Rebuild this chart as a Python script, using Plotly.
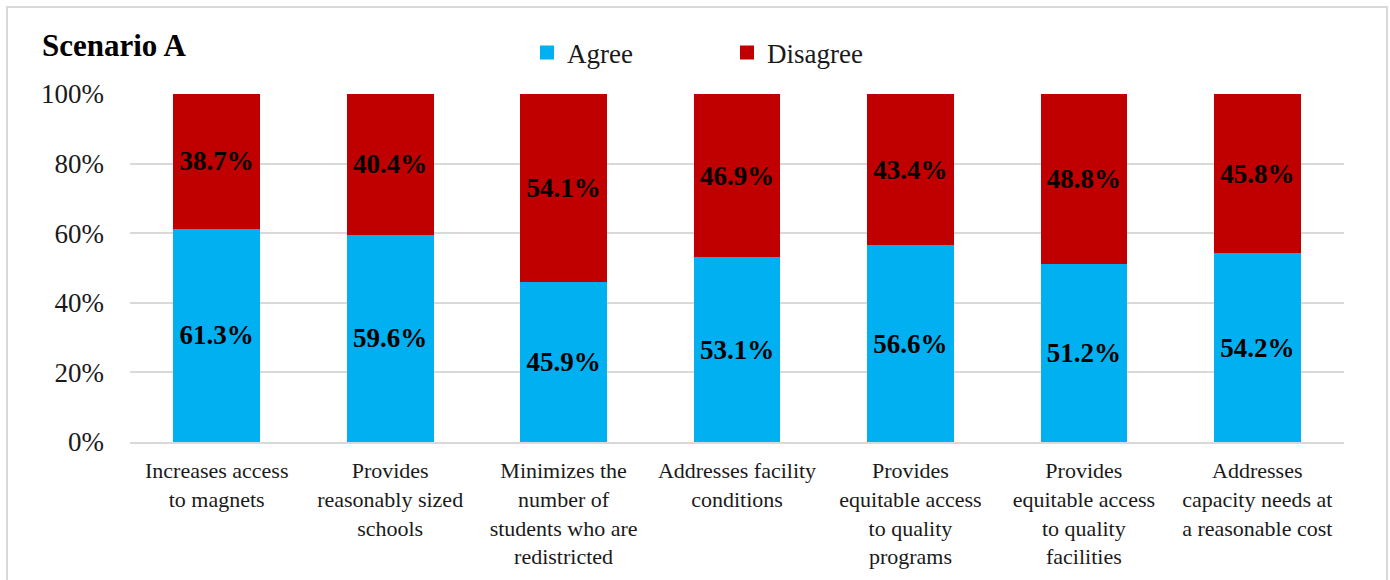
import plotly.graph_objects as go

categories = [
    "Increases access<br>to magnets",
    "Provides<br>reasonably sized<br>schools",
    "Minimizes the<br>number of<br>students who are<br>redistricted",
    "Addresses facility<br>conditions",
    "Provides<br>equitable access<br>to quality<br>programs",
    "Provides<br>equitable access<br>to quality<br>facilities",
    "Addresses<br>capacity needs at<br>a reasonable cost",
]
agree = [61.3, 59.6, 45.9, 53.1, 56.6, 51.2, 54.2]
disagree = [38.7, 40.4, 54.1, 46.9, 43.4, 48.8, 45.8]
y_ticks = [0, 20, 40, 60, 80, 100]

SERIF = "Liberation Serif"
W, H = 1390, 580
L, R, T, B = 130, 46, 94, 138
pw, ph = W - L - R, H - T - B


def px_x(x):
    return (x - L) / pw


def px_y(y):
    return (H - B - y) / ph


series = [("Agree", agree, "#00B0F0"), ("Disagree", disagree, "#C00000")]

fig = go.Figure()
for name, vals, color in series:
    fig.add_trace(go.Bar(
        name=name,
        x=categories,
        y=vals,
        marker=dict(color=color, line=dict(width=0)),
        text=[f"{v:.1f}%" for v in vals],
        textposition="inside",
        insidetextanchor="middle",
        textangle=0,
        textfont=dict(family=SERIF, size=27, color="black", weight="bold"),
        hoverinfo="skip",
        showlegend=False,
    ))

# legend keys drawn as larger square markers
for name, _, color in series:
    fig.add_trace(go.Scatter(
        name=name,
        x=[None], y=[None],
        mode="markers",
        marker=dict(symbol="square", size=14, color=color),
        hoverinfo="skip",
    ))

fig.update_layout(
    width=W, height=H,
    margin=dict(l=L, r=R, t=T, b=B),
    barmode="stack",
    bargap=0.5,
    paper_bgcolor="white",
    plot_bgcolor="white",
    font=dict(family=SERIF, color="#1a1a1a"),
    legend=dict(
        orientation="h",
        x=px_x(527), xanchor="left",
        y=px_y(53), yanchor="middle",
        font=dict(family=SERIF, size=27, color="#1a1a1a"),
        entrywidth=155, entrywidthmode="pixels",
        traceorder="normal",
        bgcolor="rgba(0,0,0,0)",
    ),
    xaxis=dict(
        tickfont=dict(family=SERIF, size=22, color="#1a1a1a"),
        showline=True, linecolor="#d9d9d9", linewidth=2,
        ticks="", ticklabelstandoff=8,
    ),
    yaxis=dict(
        range=[0, 100],
        tickvals=y_ticks,
        ticktext=[f"{v}%" for v in y_ticks],
        tickfont=dict(family=SERIF, size=27, color="#1a1a1a"),
        showgrid=True, gridcolor="#d9d9d9", gridwidth=2,
        zeroline=False, showline=False,
        ticks="", ticklabelstandoff=25,
    ),
    annotations=[dict(
        text="<b>Scenario A</b>",
        xref="paper", yref="paper",
        x=px_x(40), y=px_y(45),
        xanchor="left", yanchor="middle",
        showarrow=False,
        font=dict(family=SERIF, size=31, color="black"),
    )],
    shapes=[dict(
        type="rect", xref="paper", yref="paper",
        x0=px_x(7), x1=px_x(1387), y0=px_y(590), y1=px_y(7),
        line=dict(color="#d9d9d9", width=2),
        fillcolor="rgba(0,0,0,0)", layer="below",
    )],
)

fig.write_html("out.html")
